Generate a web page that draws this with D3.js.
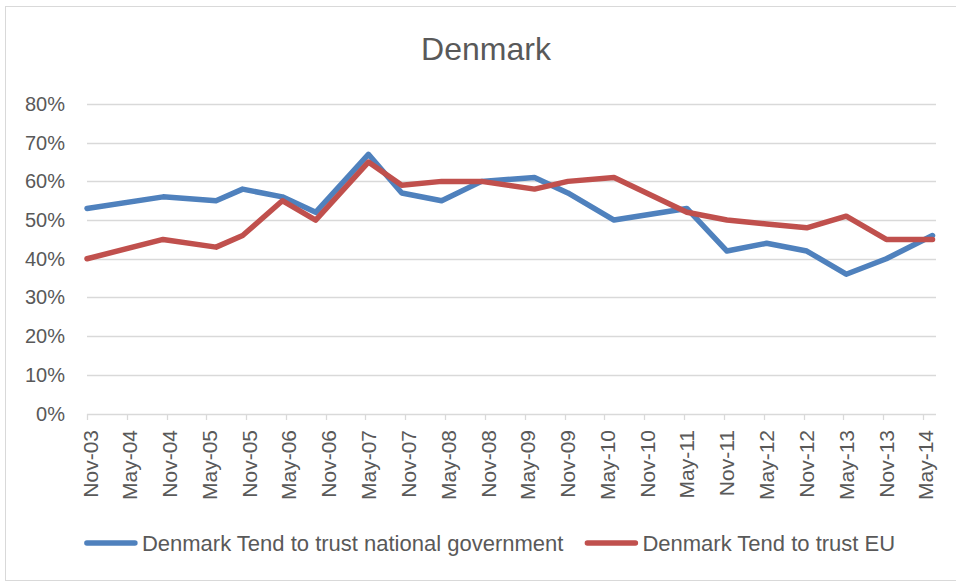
<!doctype html>
<html lang="en">
<head>
  <meta charset="utf-8">
  <title>Denmark</title>
  <script src="https://d3js.org/d3.v7.min.js"></script>
  <style>
    body { margin: 0; background: #fff; }
    text { font-family: "Liberation Sans", Arial, sans-serif; fill: #595959; }
  </style>
</head>
<body>
<svg width="956" height="582"></svg>
<script>
// survey dates (Eurobarometer waves) and shares trusting each institution
var dates = ["2003-11-01", "2004-10-15", "2005-06-15", "2005-10-15", "2006-04-15",
             "2006-09-15", "2007-05-15", "2007-10-15", "2008-04-15", "2008-10-15",
             "2009-06-15", "2009-11-15", "2010-06-15", "2011-05-15", "2011-11-15",
             "2012-05-15", "2012-11-15", "2013-05-15", "2013-11-15", "2014-06-15"];
var trustGov = [53, 56, 55, 58, 56, 52, 67, 57, 55, 60, 61, 57, 50, 53, 42, 44, 42, 36, 40, 46];
var trustEU  = [40, 45, 43, 46, 55, 50, 65, 59, 60, 60, 58, 60, 61, 52, 50, 49, 48, 51, 45, 45];
var seriesNames = ["Denmark Tend to trust national government", "Denmark Tend to trust EU"];
var seriesColors = ["#4f81bd", "#c0504d"];
var yTicks = [0, 10, 20, 30, 40, 50, 60, 70, 80];
var axisStart = "2003-11-01", axisEnd = "2014-07-01";
var tickCount = 22; // Nov-03 .. May-14, every 6 months

var parse = d3.timeParse("%Y-%m-%d");
var svg = d3.select("svg");

// chart frame
svg.append("rect")
    .attr("x", 5.5).attr("y", 6.5)
    .attr("width", 960).attr("height", 574)
    .attr("fill", "#fff")
    .attr("stroke", "#d9d9d9");

svg.append("text")
    .attr("x", 486).attr("y", 60)
    .attr("text-anchor", "middle")
    .style("font-size", "32px")
    .text("Denmark");

var x = d3.scaleTime()
    .domain([parse(axisStart), parse(axisEnd)])
    .range([87, 936]);
var y = d3.scaleLinear().domain([0, 80]).range([413.5, 104]);

// gridlines + y labels
var g = svg.append("g");
g.selectAll("line.grid")
    .data(yTicks)
    .enter().append("line")
    .attr("class", "grid")
    .attr("x1", 87).attr("x2", 936)
    .attr("y1", function(d) { return Math.round(y(d)) + 0.5; })
    .attr("y2", function(d) { return Math.round(y(d)) + 0.5; })
    .attr("stroke", "#d9d9d9")
    .attr("stroke-width", 1.3);

g.selectAll("text.ylab")
    .data(yTicks)
    .enter().append("text")
    .attr("class", "ylab")
    .attr("x", 65)
    .attr("y", function(d) { return y(d) + 7; })
    .attr("text-anchor", "end")
    .style("font-size", "20px")
    .text(function(d) { return d + "%"; });

// x ticks every 6 months starting at the axis origin
var xTicks = d3.range(tickCount).map(function(i) {
  return d3.timeMonth.offset(parse(axisStart), i * 6);
});
var fmt = d3.timeFormat("%b-%y");
g.selectAll("line.xt")
    .data(xTicks)
    .enter().append("line")
    .attr("class", "xt")
    .attr("x1", function(d) { return Math.round(x(d)) + 0.5; })
    .attr("x2", function(d) { return Math.round(x(d)) + 0.5; })
    .attr("y1", 414).attr("y2", 420)
    .attr("stroke", "#d9d9d9")
    .attr("stroke-width", 1.3);

g.selectAll("text.xlab")
    .data(xTicks)
    .enter().append("text")
    .attr("class", "xlab")
    .attr("transform", function(d) { return "translate(" + (x(d) + 10.5) + ",430) rotate(-90)"; })
    .attr("text-anchor", "end")
    .style("font-size", "21px")
    .text(function(d) { return fmt(d); });

// lines
var line = d3.line()
    .x(function(d) { return x(d[0]); })
    .y(function(d) { return y(d[1]); });

[trustGov, trustEU].forEach(function(vals, i) {
  svg.append("path")
      .datum(dates.map(function(dt, j) { return [parse(dt), vals[j]]; }))
      .attr("d", line)
      .attr("fill", "none")
      .attr("stroke", seriesColors[i])
      .attr("stroke-width", 5.5)
      .attr("stroke-linejoin", "round")
      .attr("stroke-linecap", "round");
});

// legend, centred under the plot
var leg = svg.append("g");
var cx = 0;
seriesNames.forEach(function(name, i) {
  leg.append("line")
      .attr("x1", cx + 2).attr("x2", cx + 50)
      .attr("y1", 543).attr("y2", 543)
      .attr("stroke", seriesColors[i])
      .attr("stroke-width", 5.5)
      .attr("stroke-linecap", "round");
  var t = leg.append("text")
      .attr("x", cx + 57).attr("y", 551)
      .style("font-size", "22px")
      .text(name);
  cx += 57 + t.node().getComputedTextLength() + 22;
});
var legW = cx - 22;
leg.attr("transform", "translate(" + (490 - legW / 2) + ",0)");
</script>
</body>
</html>
